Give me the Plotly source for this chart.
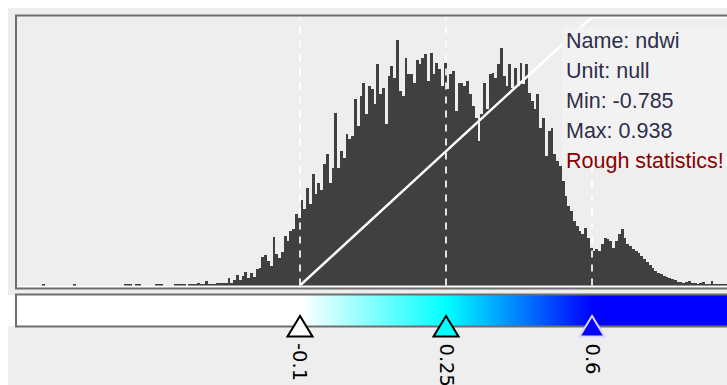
import plotly.graph_objects as go

OX, OY = 8, 8            # page offset of the figure inside the 727x385 window
W, H = 727 - OX, 385 - OY  # figure fills the rest of the window

# ---- data ----
band_name = "ndwi"
band_unit = "null"
band_min = -0.785
band_max = 0.938

# histogram counts (relative heights), 256 bins from band_min to band_max
counts = [
    0, 0, 0, 0, 0, 0, 0, 0, 0, 0,
    1, 0, 0, 0, 0, 0, 0, 0, 0, 0,
    0, 1, 0, 0, 0, 0, 0, 0, 0, 0,
    0, 0, 0, 0, 0, 0, 0, 0, 0, 1,
    1, 1, 0, 1, 1, 0, 0, 0, 0, 0,
    1, 1, 1, 0, 0, 0, 0, 2, 2, 1,
    2, 0, 2, 1, 1, 3, 1, 1, 5, 1,
    2, 2, 3, 3, 3, 3, 8, 3, 6, 11,
    6, 10, 14, 8, 13, 9, 17, 18, 29, 31,
    25, 20, 49, 32, 28, 34, 50, 45, 55, 57,
    72, 68, 86, 77, 98, 82, 112, 92, 103, 96,
    122, 132, 103, 118, 173, 118, 135, 128, 152, 147,
    150, 187, 160, 190, 203, 172, 200, 197, 182, 222,
    192, 198, 162, 210, 220, 208, 246, 195, 190, 228,
    212, 212, 203, 226, 222, 228, 232, 205, 233, 212,
    223, 217, 200, 223, 197, 212, 215, 175, 203, 203,
    200, 205, 192, 180, 168, 145, 172, 203, 177, 212,
    213, 208, 222, 238, 210, 200, 222, 198, 218, 200,
    223, 202, 222, 193, 185, 177, 192, 158, 168, 130,
    155, 158, 132, 125, 120, 105, 90, 80, 75, 65,
    60, 55, 52, 58, 48, 38, 35, 37, 35, 42,
    48, 47, 45, 38, 45, 52, 57, 48, 42, 40,
    37, 35, 33, 30, 27, 24, 21, 18, 15, 13,
    12, 10, 9, 8, 7, 6, 4, 4, 3, 4,
    5, 3, 3, 2, 3, 4, 2, 2, 5, 2,
    1, 2, 1, 1, 1, 0,
]

slider_values = [-0.1, 0.25, 0.6]
slider_labels = ["-0.1", "0.25", "0.6"]
slider_colors = ["#ffffff", "#00ffff", "#0000ff"]
slider_edges = ["#000000", "#000000", "#d8d8ff"]

# gamma curve (white line): normalised output 0..1
curve_x = [-0.1, 0.6, 0.95]
curve_y = [0, 1, 1]

info_lines = ["Name: " + band_name, "Unit: " + band_unit,
              "Min: " + str(band_min), "Max: " + str(band_max)]
warn_line = "Rough statistics!"

# ---- geometry (window pixel coordinates converted to figure paper) ----
x_range = [-0.8000, 0.9236]
hist_top = 268.5


def px(x):
    return (x - OX) / W


def py(y):
    return 1 - (y - OY) / H


bin_w = (band_max - band_min) / len(counts)
centers = [band_min + (i + 0.5) * bin_w for i in range(len(counts))]

fig = go.Figure()
fig.add_trace(go.Bar(x=centers, y=counts, width=bin_w,
                     marker=dict(color="#404040", line=dict(width=0)),
                     xaxis="x", yaxis="y", hoverinfo="skip"))
fig.add_trace(go.Scatter(x=curve_x, y=curve_y, mode="lines",
                         line=dict(color="#ffffff", width=2.5),
                         xaxis="x", yaxis="y3", hoverinfo="skip"))

# colour bar strip
cb_x = [x_range[0]] + slider_values + [x_range[1]]
cb_z = [0] + list(range(len(slider_values))) + [len(slider_values) - 1]
n = len(slider_colors) - 1
cscale = [[i / n, c] for i, c in enumerate(slider_colors)]
fig.add_trace(go.Heatmap(x=cb_x, y=[0, 1], z=[cb_z, cb_z], zmin=0, zmax=n,
                         colorscale=cscale, zsmooth="best", showscale=False,
                         xaxis="x", yaxis="y2", hoverinfo="skip"))

shapes = []
# dashed slider lines in histogram
for v in slider_values:
    shapes.append(dict(type="line", xref="x", yref="paper", x0=v, x1=v,
                       y0=py(285.5), y1=py(17),
                       line=dict(color="rgba(255,255,255,0.85)", width=2,
                                 dash="7px,7px"), layer="above"))
# info box
shapes.append(dict(type="rect", xref="paper", yref="paper", x0=px(562), x1=1.02,
                   y0=py(167), y1=py(27), fillcolor="rgba(243,243,243,0.88)",
                   line=dict(width=0), layer="above"))
# white baseline
shapes.append(dict(type="line", xref="paper", yref="paper", x0=px(17), x1=1.02,
                   y0=py(286.8), y1=py(286.8),
                   line=dict(color="#ffffff", width=1.5), layer="above"))
# histogram frame
shapes.append(dict(type="rect", xref="paper", yref="paper", x0=px(16), x1=px(745),
                   y0=py(288.5), y1=py(15.5),
                   line=dict(color="#6e6e6e", width=2), layer="above"))
# colour bar frame
shapes.append(dict(type="rect", xref="paper", yref="paper", x0=px(16), x1=px(745),
                   y0=py(326.5), y1=py(294.5),
                   line=dict(color="#6e6e6e", width=2), layer="above"))
# slider triangles
for v, c, e in zip(slider_values, slider_colors, slider_edges):
    shapes.append(dict(type="path", xref="x", yref="paper",
                       xsizemode="pixel", ysizemode="pixel",
                       xanchor=v, yanchor=py(316),
                       path="M0,0 L-12.5,-20.5 L12.5,-20.5 Z",
                       fillcolor=c, line=dict(color=e, width=2), layer="above"))

annotations = []
for k, t in enumerate(info_lines + [warn_line]):
    annotations.append(dict(xref="paper", yref="paper", x=px(564), y=py(41 + 30 * k),
                            xanchor="left", yanchor="middle", text=t, showarrow=False,
                            font=dict(family="Liberation Sans, Arial, sans-serif", size=21.5,
                                      color="#8b0000" if t == warn_line else "#2e2e4a")))
for v, lab in zip(slider_values, slider_labels):
    annotations.append(dict(xref="x", yref="paper", x=v, y=py(341),
                            xanchor="center", yanchor="top", text=lab, textangle=90,
                            showarrow=False,
                            font=dict(family="DejaVu Sans, sans-serif", size=19.5,
                                      color="#000000")))

fig.update_layout(
    width=W, height=H, margin=dict(l=0, r=0, t=0, b=0),
    paper_bgcolor="#eeeeee", plot_bgcolor="rgba(0,0,0,0)",
    showlegend=False, bargap=0,
    xaxis=dict(range=x_range, domain=[0, 1], visible=False, fixedrange=True),
    yaxis=dict(range=[0, hist_top], domain=[py(285.5), py(17)], visible=False),
    yaxis2=dict(range=[0, 1], domain=[py(326), py(295)], visible=False),
    yaxis3=dict(range=[0, 1], domain=[py(285.5), py(17)], overlaying="y",
                visible=False),
    shapes=shapes, annotations=annotations,
)

fig.write_html(
    "out.html",
    config={"displayModeBar": False},
    post_script="document.body.style.margin='8px 0 0 8px';"
                "document.documentElement.style.overflow='hidden';"
                "document.body.style.overflow='hidden';",
)
